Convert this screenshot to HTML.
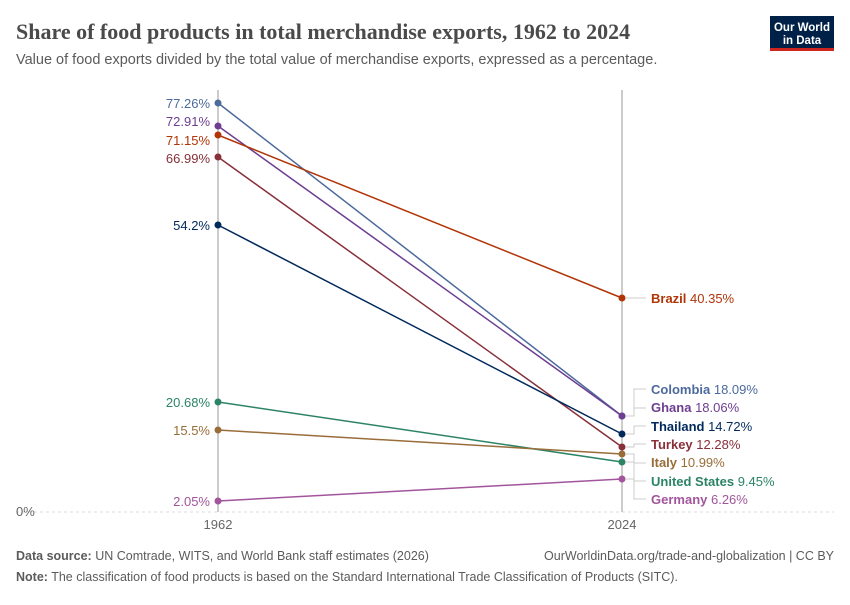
<!DOCTYPE html>
<html><head><meta charset="utf-8"><style>
body{margin:0;background:#fff;font-family:"Liberation Sans",sans-serif;}
</style></head><body>
<svg width="850" height="600" xmlns="http://www.w3.org/2000/svg" font-family="Liberation Sans, sans-serif">
<rect width="850" height="600" fill="#fff"/>
<text x="16" y="39" font-family="Liberation Serif, serif" font-size="22" font-weight="bold" fill="#4a4a4a">Share of food products in total merchandise exports, 1962 to 2024</text>
<text x="16" y="64" font-size="14.5" fill="#5b5b5b">Value of food exports divided by the total value of merchandise exports, expressed as a percentage.</text>
<rect x="770" y="16" width="64" height="34" fill="#002147"/>
<rect x="770" y="48" width="64" height="3" fill="#ce261e"/>
<text x="802" y="31" font-size="11.5" font-weight="bold" fill="#fff" text-anchor="middle">Our World</text>
<text x="802" y="44" font-size="11.5" font-weight="bold" fill="#fff" text-anchor="middle">in Data</text>
<line x1="16" y1="512" x2="834" y2="512" stroke="#ddd" stroke-dasharray="3,3"/>
<text x="16" y="516" font-size="13" fill="#666">0%</text>
<line x1="218" y1="90" x2="218" y2="512" stroke="#bbb" stroke-width="1.5"/>
<line x1="622" y1="90" x2="622" y2="512" stroke="#bbb" stroke-width="1.5"/>
<text x="218" y="529" font-size="13" fill="#666" text-anchor="middle">1962</text>
<text x="622" y="529" font-size="13" fill="#666" text-anchor="middle">2024</text>
<g stroke-width="1.5" fill="none">
<line x1="218" y1="103" x2="622" y2="416" stroke="#4C6A9C"/>
<line x1="218" y1="126" x2="622" y2="416" stroke="#6D3E91"/>
<line x1="218" y1="135" x2="622" y2="298" stroke="#B13507"/>
<line x1="218" y1="157" x2="622" y2="447" stroke="#883039"/>
<line x1="218" y1="225" x2="622" y2="434" stroke="#00295B"/>
<line x1="218" y1="402" x2="622" y2="462" stroke="#2C8465"/>
<line x1="218" y1="430" x2="622" y2="454" stroke="#996D39"/>
<line x1="218" y1="501" x2="622" y2="479" stroke="#A2559C"/>
</g>
<g>
<circle cx="218" cy="103" r="3.5" fill="#4C6A9C"/><circle cx="622" cy="416" r="3.5" fill="#4C6A9C"/>
<circle cx="218" cy="126" r="3.5" fill="#6D3E91"/><circle cx="622" cy="416" r="3.5" fill="#6D3E91"/>
<circle cx="218" cy="135" r="3.5" fill="#B13507"/><circle cx="622" cy="298" r="3.5" fill="#B13507"/>
<circle cx="218" cy="157" r="3.5" fill="#883039"/><circle cx="622" cy="447" r="3.5" fill="#883039"/>
<circle cx="218" cy="225" r="3.5" fill="#00295B"/><circle cx="622" cy="434" r="3.5" fill="#00295B"/>
<circle cx="218" cy="402" r="3.5" fill="#2C8465"/><circle cx="622" cy="462" r="3.5" fill="#2C8465"/>
<circle cx="218" cy="430" r="3.5" fill="#996D39"/><circle cx="622" cy="454" r="3.5" fill="#996D39"/>
<circle cx="218" cy="501" r="3.5" fill="#A2559C"/><circle cx="622" cy="479" r="3.5" fill="#A2559C"/>
</g>
<g font-size="13" text-anchor="end">
<text x="210" y="108" fill="#4C6A9C">77.26%</text>
<text x="210" y="126" fill="#6D3E91">72.91%</text>
<text x="210" y="145" fill="#B13507">71.15%</text>
<text x="210" y="163" fill="#883039">66.99%</text>
<text x="210" y="230" fill="#00295B">54.2%</text>
<text x="210" y="407" fill="#2C8465">20.68%</text>
<text x="210" y="435" fill="#996D39">15.5%</text>
<text x="210" y="506" fill="#A2559C">2.05%</text>
</g>
<g stroke="#ccc" fill="none">
<line x1="626" y1="298" x2="646" y2="298"/>
<polyline points="626,416 634,416 634,389 646,389"/>
<polyline points="626,416 634,416 634,408 646,408"/>
<polyline points="626,434 634,434 634,426 646,426"/>
<polyline points="626,447 634,447 634,444 646,444"/>
<polyline points="626,454 634,454 634,463 646,463"/>
<polyline points="626,462 634,462 634,481 646,481"/>
<polyline points="626,479 634,479 634,499 646,499"/>
</g>
<g font-size="13">
<text x="651" y="303" fill="#B13507"><tspan font-weight="bold">Brazil</tspan> 40.35%</text>
<text x="651" y="394" fill="#4C6A9C"><tspan font-weight="bold">Colombia</tspan> 18.09%</text>
<text x="651" y="412" fill="#6D3E91"><tspan font-weight="bold">Ghana</tspan> 18.06%</text>
<text x="651" y="431" fill="#00295B"><tspan font-weight="bold">Thailand</tspan> 14.72%</text>
<text x="651" y="449" fill="#883039"><tspan font-weight="bold">Turkey</tspan> 12.28%</text>
<text x="651" y="467" fill="#996D39"><tspan font-weight="bold">Italy</tspan> 10.99%</text>
<text x="651" y="486" fill="#2C8465"><tspan font-weight="bold">United States</tspan> 9.45%</text>
<text x="651" y="504" fill="#A2559C"><tspan font-weight="bold">Germany</tspan> 6.26%</text>
</g>
<text x="16" y="560" font-size="12.5" fill="#5b5b5b"><tspan font-weight="bold">Data source:</tspan> UN Comtrade, WITS, and World Bank staff estimates (2026)</text>
<text x="834" y="560" font-size="12.5" fill="#5b5b5b" text-anchor="end">OurWorldinData.org/trade-and-globalization | CC BY</text>
<text x="16" y="581" font-size="12.5" fill="#5b5b5b"><tspan font-weight="bold">Note:</tspan> The classification of food products is based on the Standard International Trade Classification of Products (SITC).</text>
</svg>
</body></html>
